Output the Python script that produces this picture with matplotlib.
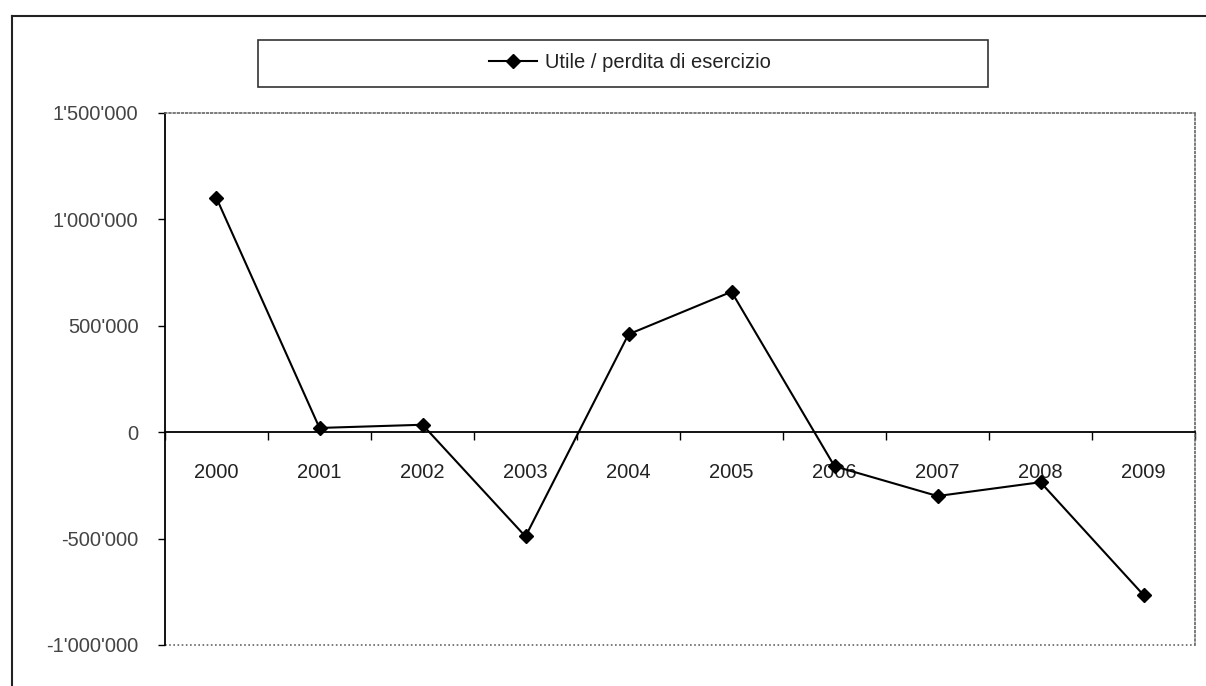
import numpy as np
import matplotlib.pyplot as plt
from matplotlib.lines import Line2D
from matplotlib.patches import Rectangle
from matplotlib.ticker import FuncFormatter, FixedLocator

# ==========================================================
# Data
# ==========================================================

years = ["2000", "2001", "2002", "2003", "2004",
         "2005", "2006", "2007", "2008", "2009"]

utile_perdita = [1100000, 20000, 35000, -490000, 460000,
                 660000, -160000, -300000, -235000, -765000]

y_ticks = [-1000000, -500000, 0, 500000, 1000000, 1500000]

series_label = "Utile / perdita di esercizio"

# ==========================================================
# Figure
# ==========================================================

plt.rcParams["font.family"] = ["Liberation Sans", "DejaVu Sans"]

W, H = 1206, 686
fig = plt.figure(figsize=(W / 100, H / 100), dpi=100)

ax = fig.add_axes([165 / W, 1 - 645 / H, 1030 / W, 532 / H])

x = np.arange(len(years))

ax.plot(
    x,
    utile_perdita,
    color="black",
    linewidth=1.5,
    marker="D",
    markersize=7,
    label=series_label,
)

ax.set_xlim(-0.5, len(years) - 0.5)
ax.set_ylim(y_ticks[0], y_ticks[-1])

# y axis
ax.yaxis.set_major_locator(FixedLocator(y_ticks))
ax.yaxis.set_major_formatter(
    FuncFormatter(lambda v, _: f"{v:,.0f}".replace(",", "'"))
)
ax.tick_params(axis="y", direction="out", length=5, width=1,
               labelsize=14.5, labelcolor="#444444", pad=14)
ax.spines["left"].set_linewidth(1.3)

# category axis crossing at zero
ax.spines["bottom"].set_position(("data", 0))
ax.spines["bottom"].set_linewidth(1.3)
ax.set_xticks(x)
ax.set_xticklabels(years)
ax.set_xticks(np.arange(-0.5, len(years)), minor=True)
ax.tick_params(axis="x", which="major", length=0,
               labelsize=14.5, labelcolor="#222222", pad=22)
ax.tick_params(axis="x", which="minor", direction="out",
               length=6, width=1)

# dotted plot-area border
for side in ["top", "right"]:
    ax.spines[side].set_linestyle((0, (1, 1.5)))
    ax.spines[side].set_color("#666666")
    ax.spines[side].set_linewidth(1.2)

ax.plot(
    [0, 1],
    [0, 0],
    transform=ax.transAxes,
    color="#666666",
    linestyle=(0, (1, 1.5)),
    linewidth=1.2,
    clip_on=False,
)

# ==========================================================
# Legend box
# ==========================================================

fig.patches.append(
    Rectangle(
        (258 / W, 1 - 87 / H),
        730 / W,
        47 / H,
        transform=fig.transFigure,
        fill=False,
        edgecolor="#333333",
        linewidth=1.2,
    )
)

fig.legend(
    loc="center",
    bbox_to_anchor=(630 / W, 1 - 63 / H),
    frameon=False,
    fontsize=14.5,
    handlelength=2.4,
    handletextpad=0.4,
    labelcolor="#222222",
)

# ==========================================================
# Outer chart frame
# ==========================================================

fig.add_artist(Line2D([12 / W, 12 / W], [0, 1 - 16 / H],
                      transform=fig.transFigure,
                      color="#222222", linewidth=1.5))
fig.add_artist(Line2D([12 / W, 1], [1 - 16 / H, 1 - 16 / H],
                      transform=fig.transFigure,
                      color="#222222", linewidth=1.5))

fig.savefig("out.png", dpi=100, facecolor="white")
